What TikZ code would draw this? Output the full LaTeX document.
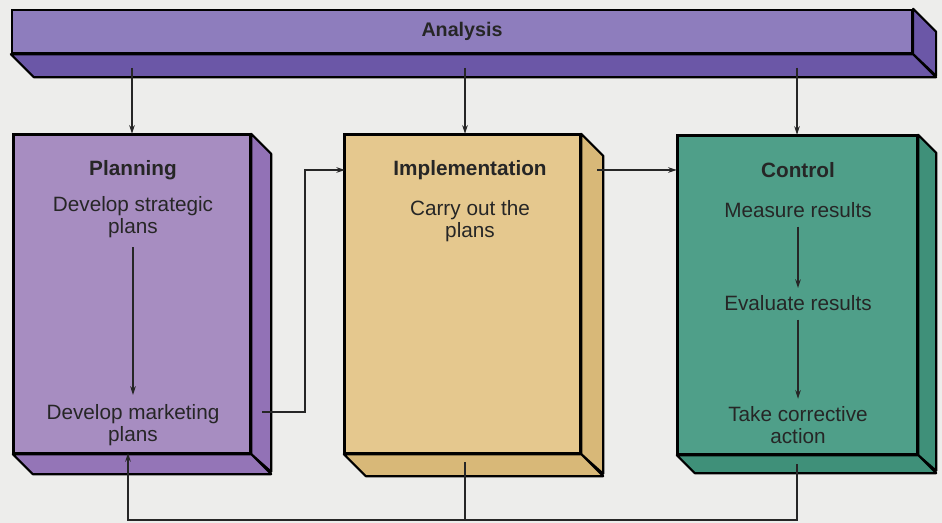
\documentclass[tikz,border=0pt]{standalone}
\usepackage{fontspec}
\setmainfont{Liberation Sans}
\usetikzlibrary{arrows.meta,calc}
\definecolor{bgc}{HTML}{EDEDEB}
\definecolor{anaF}{HTML}{8E7DBD}
\definecolor{anaS}{HTML}{6B57A7}
\definecolor{plaF}{HTML}{A78DC1}
\definecolor{plaS}{HTML}{9272B6}
\definecolor{impF}{HTML}{E5C88E}
\definecolor{impS}{HTML}{D8B878}
\definecolor{conF}{HTML}{4F9F89}
\definecolor{conS}{HTML}{3F9079}
\definecolor{ink}{HTML}{262626}
\tikzset{
  front/.style={draw=black, line width=1.4pt, rectangle, inner sep=0pt},
  sideface/.style={draw=black, line width=1.2pt, line join=round},
  txt/.style={align=center, text=ink, font=\fontsize{11.8}{12.8}\selectfont, inner sep=4pt},
  ttl/.style={align=center, text=ink, font=\bfseries\fontsize{11.8}{12.8}\selectfont},
  attl/.style={align=center, text=ink, font=\bfseries\fontsize{11.2}{12.5}\selectfont},
  arr/.style={draw=ink, line width=0.6pt, -{Stealth[length=5pt,width=3.2pt]}},
  ln/.style={draw=ink, line width=0.6pt}
}
\begin{document}
\begin{tikzpicture}[x=0.02cm,y=-0.02cm]
\fill[bgc] (0,0) rectangle (942,523);
\useasboundingbox (0,0) rectangle (942,523);

% Analysis bar
\node[front, fill=anaF, minimum width=18cm, minimum height=0.86cm] (ana) at (462,31.5) {};
\filldraw[sideface, fill=anaS] (ana.north east) -- ++(23,23) -- ++(0,44) -- (ana.south east) -- cycle;
\filldraw[sideface, fill=anaS] (ana.south west) -- (ana.south east) -- ++(23,23) -- ($(ana.south west)+(23,23)$) -- cycle;
\node[attl] (anaT) at (ana.center) {Analysis};

% Planning box
\node[front, fill=plaF, minimum width=4.72cm, minimum height=6.36cm] (plan) at (132,294) {};
\filldraw[sideface, fill=plaS] (plan.north east) -- ++(20,20) -- ++(0,318) -- (plan.south east) -- cycle;
\filldraw[sideface, fill=plaS!90!plaF] (plan.south west) -- (plan.south east) -- ++(20,20) -- ($(plan.south west)+(20,20)$) -- cycle;
\draw[black, line width=1.4pt] (plan.north west) rectangle (plan.south east);

% Implementation box
\node[front, fill=impF, minimum width=4.70cm, minimum height=6.36cm] (impl) at (462.5,294) {};
\filldraw[sideface, fill=impS] (impl.north east) -- ++(22,22) -- ++(0,318) -- (impl.south east) -- cycle;
\filldraw[sideface, fill=impS] (impl.south west) -- (impl.south east) -- ++(22,22) -- ($(impl.south west)+(22,22)$) -- cycle;
\draw[black, line width=1.4pt] (impl.north west) rectangle (impl.south east);

% Control box
\node[front, fill=conF, minimum width=4.78cm, minimum height=6.36cm] (ctrl) at (797.5,295) {};
\filldraw[sideface, fill=conS] (ctrl.north east) -- ++(18,18) -- ++(0,318) -- (ctrl.south east) -- cycle;
\filldraw[sideface, fill=conS] (ctrl.south west) -- (ctrl.south east) -- ++(18,18) -- ($(ctrl.south west)+(18,18)$) -- cycle;
\draw[black, line width=1.4pt] (ctrl.north west) rectangle (ctrl.south east);

% Texts
\node[ttl] (planT) at (133,170) {Planning};
\node[txt] (strat) at (133,217) {Develop strategic\\plans};
\node[txt] (mkt) at (133,425) {Develop marketing\\plans};

\node[ttl] (implT) at (470,170) {Implementation};
\node[txt] (carry) at (470,221) {Carry out the\\plans};

\node[ttl] (ctrlT) at (798,170) {Control};
\node[txt] (meas) at (798,210) {Measure results};
\node[txt] (eval) at (798,303) {Evaluate results};
\node[txt] (act) at (798,425) {Take corrective\\action};

% internal arrows
\draw[arr, shorten <=1pt, shorten >=1pt] (strat) -- (mkt);
\draw[arr, shorten <=1pt, shorten >=0pt] (meas) -- (eval);
\draw[arr, shorten <=1pt, shorten >=0pt] (eval) -- (act);

% Analysis arrows
\coordinate (a1) at (132,68);
\coordinate (a2) at (465,68);
\coordinate (a3) at (797,68);
\draw[arr] (a1) -- (a1 |- plan.north);
\draw[arr] (a2) -- (a2 |- impl.north);
\draw[arr] (a3) -- (a3 |- ctrl.north);

% Planning -> Implementation
\coordinate (pout) at (262,412);
\coordinate (iin) at (345,170);
\draw[arr] (pout) -- ++(43,0) |- (iin);

% Implementation -> Control
\coordinate (iout) at (597,170);
\draw[arr] (iout) -- (iout -| ctrl.west);

% Feedback
\coordinate (ifb) at (465,462);
\coordinate (cfb) at (797,464);
\coordinate (pfb) at (128,453);
\coordinate (bot) at (0,520);
\draw[ln] (ifb) -- (ifb |- bot);
\draw[arr] (cfb) -- (cfb |- bot) -| (pfb);
\end{tikzpicture}
\end{document}
